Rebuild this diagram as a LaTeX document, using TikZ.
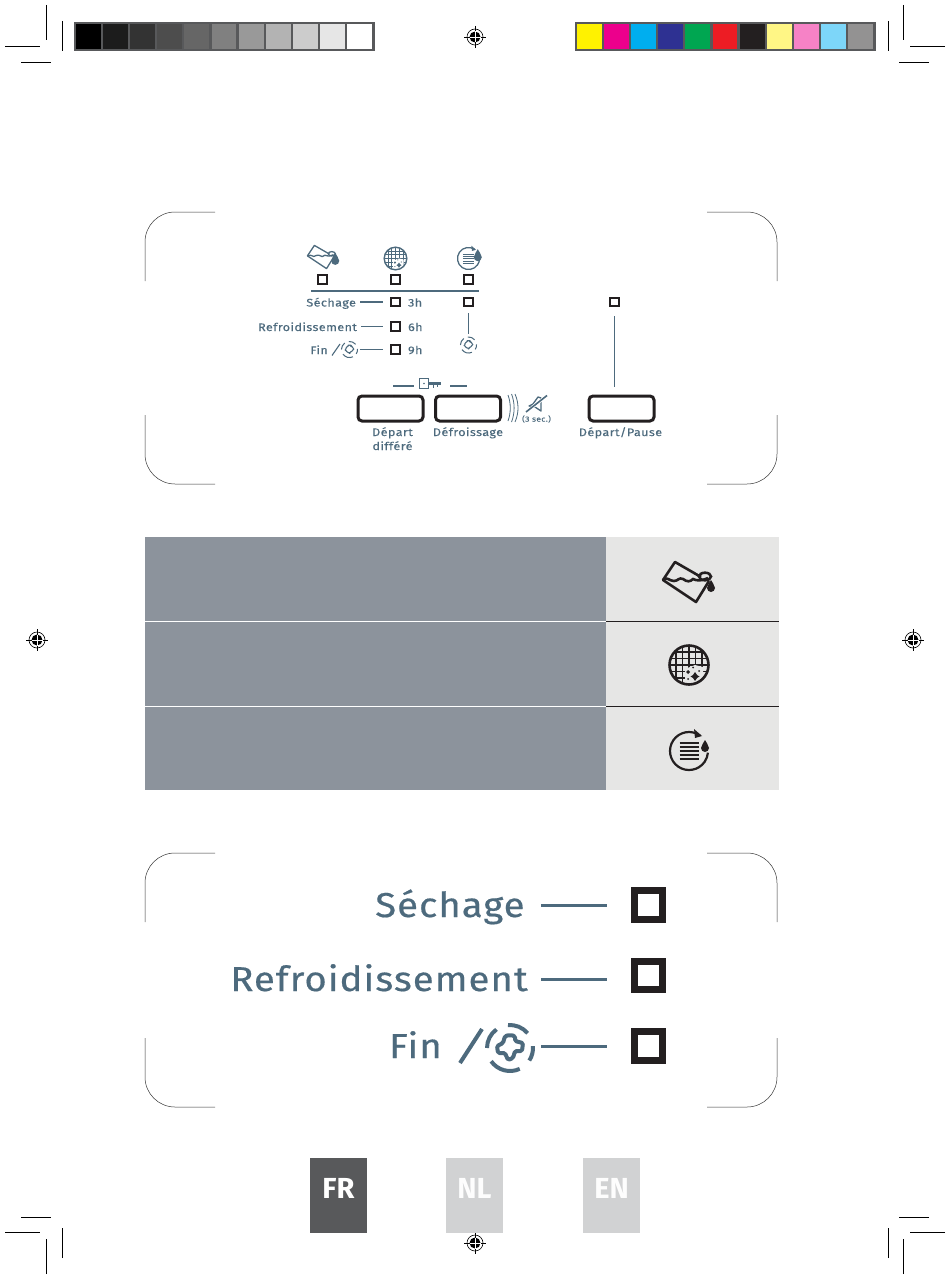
\documentclass[tikz,border=0pt]{standalone}
\usepackage{fontspec}
\setmainfont{Fira Sans}
\newfontfamily\ecran[LetterSpace=3,FakeStretch=1.11,FakeBold=.5]{Fira Sans}
\newfontfamily\petitecran[LetterSpace=3.5,FakeStretch=1.15,FakeBold=.25]{Fira Sans}
\usetikzlibrary{positioning}
\definecolor{ardoise}{HTML}{4D6A7D}
\definecolor{encre}{HTML}{231F20}
\definecolor{grisfonce}{HTML}{58595B}
\definecolor{grisbleu}{HTML}{8C939C}
\definecolor{grisclair}{HTML}{E6E6E5}
\definecolor{grislangue}{HTML}{D1D2D3}
\tikzset{
  led/.style={draw=encre,line width=2.2pt,minimum size=8.5pt,inner sep=0pt,fill=white},
  grandled/.style={draw=encre,line width=7pt,minimum size=28.5pt,inner sep=0pt,fill=white},
  bouton/.style={draw=encre,line width=3pt,rounded corners=4pt,minimum width=65pt,minimum height=25pt,inner sep=0pt},
  etiquette/.style={font=\petitecran\fontsize{11}{13}\selectfont,text=ardoise,inner sep=0pt,text height=10pt,text depth=1pt},
  legende/.style={font=\petitecran\fontsize{11}{14}\selectfont,text=ardoise,inner sep=0pt,align=center},
  grandtexte/.style={font=\ecran\fontsize{34.5}{36}\selectfont,text=ardoise,inner sep=0pt,text height=30pt,text depth=6pt},
  langue/.style={minimum width=57pt,minimum height=75pt,inner sep=0pt,text height=25pt,text depth=20pt,
                 font=\fontsize{29}{30}\selectfont\bfseries},
  vide/.style={inner sep=0pt,minimum size=#1},
  lien/.style={draw=ardoise,line width=1.1pt},
  grandlien/.style={draw=ardoise,line width=3pt},
  fin/.style={draw=black,line width=.5pt},
  pics/coupe/.style={code={
    \draw[line width=.9pt,black] (46.5,5) -- (46.5,40) (5,46.5) -- (40,46.5) (62,21) -- (62,51) (21,62) -- (51,62);
  }},
  pics/coin/.style={code={
    \draw[fin,rounded corners=30pt,draw=black!80] (70,0) -- (0,0) -- (0,69);
  }},
  pics/repere/.style={code={
    \draw[line width=.6pt] (0,0) circle[radius=8];
    \fill (0,0) circle[radius=5.5];
    \draw[line width=.8pt] (-11,0) -- (-1,0) (1,0) -- (11,0) (0,-11) -- (0,-1) (0,1) -- (0,11);
    \draw[white,line width=.7pt] (-5.5,0) -- (5.5,0) (0,-5.5) -- (0,5.5);
  }},
  pics/goutte/.style={code={
    \fill (0,-7) .. controls (.8,-4) and (4,-2.5) .. (4,1) arc[start angle=0,end angle=180,radius=4]
      .. controls (-4,-2.5) and (-.8,-4) .. (0,-7) -- cycle;
  }},
  pics/bac/.style={code={
    \draw[line join=round] (12,-5) -- (-14,-20) -- (-26,-2) -- (7,20) -- (20,-1);
    \draw (16,-5.5) ellipse[x radius=6,y radius=3.8];
    \draw (-26,-2) .. controls (-22,-6) and (-20,-1) .. (-15,-1) .. controls (-11,-1) and (-10,-5) .. (-6,-3)
      .. controls (-2,0) and (1,0) .. (4,-3) .. controls (8,-1) and (12,-1) .. (19,-4);
    \pic at (22,5) {goutte};
  }},
  pics/grille/.style={code={
    \begin{scope}
      \clip (0,0) circle[radius=19.5];
      \foreach \v in {-13,-6.5,0,6.5,13} {
        \draw[line width=.8\pgflinewidth] (\v,-20) -- (\v,20) (-20,\v) -- (20,\v);
      }
      \fill[#1] (-4,4) -- (6,0) -- (14,2) -- (14,20) -- (-4,20) -- cycle;
    \end{scope}
    \draw (0,0) circle[radius=19.5];
    \fill (6,7) -- (9,11.5) -- (6,16) -- (3,11.5) -- cycle;
    \fill (6,9) -- (10.5,11.5) -- (6,14) -- (1.5,11.5) -- cycle;
    \fill (-1,5) -- (1,7) -- (-1,9) -- (-3,7) -- cycle;
    \fill (4,2.5) circle[radius=1] (10,6) circle[radius=1] (-1,14) circle[radius=1];
  }},
  pics/filtre/.style={code={
    \draw (-55:19) arc[start angle=-55,end angle=-355,radius=19];
    \fill (5,-22) -- (13,-15) -- (6,-13) -- cycle;
    \foreach \v in {-8,-4,0,4,8} {
      \draw[line width=.7\pgflinewidth] (-9.5,\v) -- (9.5,\v);
    }
    \pic at (16,-4) {goutte};
  }},
  pics/noeud/.style={code={
    \draw (-95:23) arc[start angle=-95,end angle=-40,radius=23];
    \draw (-5:23) arc[start angle=-5,end angle=33,radius=23];
    \draw (65:23) arc[start angle=65,end angle=145,radius=23];
    \draw (180:23) arc[start angle=180,end angle=234,radius=23];
    \draw[line join=round,rounded corners=1.5pt] (0,-13) -- (5,-12) -- (5,-7) -- (13,-5) -- (12,3) -- (5,3)
      -- (3,10) -- (-2,12) -- (-5,5) -- (-12,5) -- (-13,-2) -- (-7,-5) -- (-5,-12) -- cycle;
  }},
}
\begin{document}
\begin{tikzpicture}[x=1pt,y=-1pt]
  \useasboundingbox (0,0) rectangle (950,1279);
  % reperes d'impression
  \pic at (0,0) {coupe};
  \pic[xscale=-1] at (950,0) {coupe};
  \pic[yscale=-1] at (0,1279) {coupe};
  \pic[xscale=-1,yscale=-1] at (950,1279) {coupe};
  \pic at (475,37) {repere};
  \pic at (37,640) {repere};
  \pic at (913,640) {repere};
  \pic at (475,1243) {repere};
  % barres de couleur
  \fill[grisfonce] (74,22) rectangle (375,51);
  \foreach \c [count=\i from 0] in {000000,1C1C1C,333333,4D4D4D,666666,808080,999999,B3B3B3,CCCCCC,E6E6E6,FFFFFF} {
    \definecolor{case}{HTML}{\c}
    \fill[case] (76+27.1*\i,24) rectangle (100.9+27.1*\i,49);
  }
  \fill[grisfonce] (575,22) rectangle (876,51);
  \foreach \c [count=\i from 0] in {FFF200,EC008C,00AEEF,2E3192,00A651,ED1C24,231F20,FFF685,F682C6,7DD6F9,939292} {
    \definecolor{case}{HTML}{\c}
    \fill[case] (577+27.1*\i,24) rectangle (601.9+27.1*\i,49);
  }

  % panneau du haut
  \pic at (145,212) {coin};
  \pic[xscale=-1] at (777,212) {coin};
  \pic[yscale=-1] at (145,484) {coin};
  \pic[xscale=-1,yscale=-1] at (777,484) {coin};
  \pic[scale=.58,line width=1.3pt,color=ardoise] at (322.5,257) {bac};
  \pic[scale=.58,line width=1.4pt,color=ardoise] at (395.5,258.5) {grille=white};
  \pic[scale=.58,line width=1.3pt,color=ardoise] at (468.5,258.5) {filtre};
  \node[led] (ledbac) at (322.5,279.5) {};
  \node[led] (ledgrille) at (395.5,279.5) {};
  \node[led] (ledfiltre) at (468.5,279.5) {};
  \draw[ardoise,line width=2pt] (311,290.5) -- (479,290.5);
  \node[led] (ledtrois) at (395.5,302) {};
  \node[led] (ledsix) at (395.5,326.5) {};
  \node[led] (ledneuf) at (395.5,349.5) {};
  \node[led] (leddefr) at (468.5,302) {};
  \node[led] (leddep) at (614.5,302) {};
  \node[etiquette,right=7pt of ledtrois] (htrois) {3h};
  \node[etiquette,right=7pt of ledsix] (hsix) {6h};
  \node[etiquette,right=7pt of ledneuf] (hneuf) {9h};
  \node[etiquette,left=34pt of ledtrois] (lsechage) {Séchage};
  \node[etiquette,left=33pt of ledsix] (lrefroid) {Refroidissement};
  \node[vide=16pt] (petitnoeud) at (349.5,349.5) {};
  \pic[scale=.35,line width=1pt,color=ardoise] at (petitnoeud) {noeud};
  \node[etiquette,anchor=east] (lfin) at (328,349.5) {Fin};
  \draw[lien] (332,355.5) -- (340,344);
  \draw[lien,shorten <=4pt,shorten >=7pt] (lsechage) -- (ledtrois);
  \draw[lien,shorten <=4pt,shorten >=7pt] (lrefroid) -- (ledsix);
  \draw[lien,shorten <=2pt,shorten >=7pt] (petitnoeud) -- (ledneuf);
  \node[vide=16pt] (noeuddefr) at (468.5,345) {};
  \pic[scale=.35,line width=1pt,color=ardoise] at (noeuddefr) {noeud};
  \draw[lien,line width=.8pt,shorten <=6pt,shorten >=3pt] (leddefr) -- (noeuddefr);
  % boutons
  \node[bouton] (bdiff) at (390.5,408.5) {};
  \node[bouton] (bdefr) at (468,408.5) {};
  \node[bouton] (bdep) at (621.5,408.5) {};
  \node[legende,below=4.5pt of bdiff,xshift=2pt] (tdiff) {Départ\\différé};
  \node[legende,below=4.5pt of bdefr] (tdefr) {Défroissage};
  \node[legende,below=4.5pt of bdep,xshift=-1pt] (tdep) {Départ/Pause};
  \coordinate (hautdep) at (614.5,387);
  \draw[lien,line width=.8pt,shorten <=9pt] (leddep) -- (hautdep);
  % cle
  \node[vide=9.5pt,draw=ardoise,line width=1.1pt] (cle) at (424,383.5) {};
  \fill[ardoise] (cle) circle[radius=.9];
  \draw[ardoise,line width=2.4pt] (cle.east) -- (441,383.5);
  \draw[ardoise,line width=1.5pt] (433.5,383.5) -- (433.5,387.5) (437.5,383.5) -- (437.5,387);
  \coordinate (clegauche) at (393,386);
  \coordinate (cledroite) at (467,386);
  \draw[lien] (clegauche) -- (414,386);
  \draw[lien] (450,386) -- (cledroite);
  % ondes et silence
  \draw[ardoise,line width=.8pt] (508,395) .. controls (511,403) and (511,413) .. (508,421);
  \draw[ardoise,line width=.8pt] (511.5,394) .. controls (515,403) and (515,413) .. (511.5,422);
  \draw[ardoise,line width=.8pt] (515,394) .. controls (519,403) and (519,413) .. (515,422);
  \draw[ardoise,line width=1.3pt,line join=round] (529,406) -- (533,404) -- (538,397) -- (541,398) -- (541,411) -- (535,407) -- cycle;
  \draw[white,line width=3pt] (525,413) -- (547,395.5);
  \draw[ardoise,line width=1.6pt] (526,412) -- (547,395.5);
  \node[legende,font=\petitecran\fontsize{7.5}{9}\selectfont] (trois) at (536.5,419) {(3 sec.)};

  % tableau
  \fill[grisbleu] (145,537) rectangle (606,790);
  \fill[grisclair] (606,537) rectangle (779,790);
  \draw[white,line width=.8pt] (145,621.5) -- (606,621.5) (145,706.5) -- (606,706.5);
  \draw[encre,line width=.9pt] (606,621.5) -- (779,621.5) (606,706.5) -- (779,706.5);
  \pic[line width=2.6pt,color=encre] at (689,582) {bac};
  \pic[line width=2.6pt,color=encre] at (689,665) {grille=grisclair};
  \pic[line width=2.2pt,color=encre] at (689,751) {filtre};

  % panneau du bas
  \pic at (145,853) {coin};
  \pic[xscale=-1] at (777,853) {coin};
  \pic[yscale=-1] at (145,1107) {coin};
  \pic[xscale=-1,yscale=-1] at (777,1107) {coin};
  \node[grandled] (gledun) at (648.5,905) {};
  \node[grandled] (gleddeux) at (648.5,975.5) {};
  \node[grandled] (gledtrois) at (648.5,1046) {};
  \node[grandtexte,left=106pt of gledun] (gsechage) {Séchage};
  \node[grandtexte,anchor=east] (grefroid) at (528,979) {Refroidissement};
  \node[vide=46pt] (gnoeud) at (510,1048) {};
  \pic[line width=4pt,color=ardoise] at (gnoeud) {noeud};
  \node[grandtexte,anchor=east] (gfin) at (442,1046) {Fin};
  \draw[grandlien,line width=4pt] (460,1063) -- (482,1029);
  \draw[grandlien,shorten <=16pt,shorten >=24pt] (gsechage) -- (gledun);
  \draw[grandlien,shorten <=13pt,shorten >=24pt] (grefroid) -- (grefroid -| gleddeux.west);
  \draw[grandlien,shorten <=8pt,shorten >=24pt] (gnoeud.east |- gledtrois) -- (gledtrois);

  % langues
  \node[langue,fill=grisfonce,text=white] (fr) at (338.5,1195.5) {FR};
  \node[langue,fill=grislangue,text=white!95!grislangue] (nl) at (474.5,1195.5) {NL};
  \node[langue,fill=grislangue,text=white!95!grislangue] (en) at (611.5,1195.5) {EN};
\end{tikzpicture}
\end{document}
